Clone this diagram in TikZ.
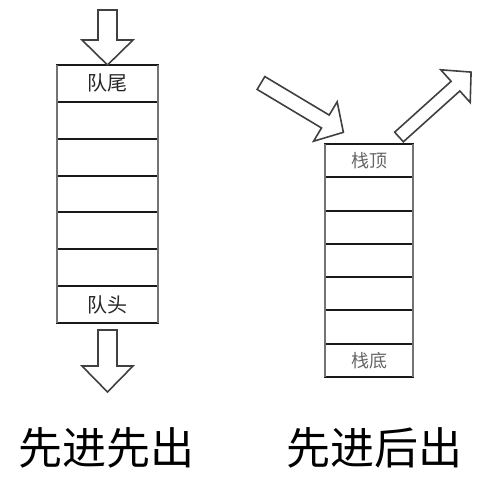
\documentclass[tikz,border=0pt]{standalone}
\usepackage{fontspec}
\newfontfamily\cjk{Noto Sans CJK SC}
\tikzset{
  qrow/.style={draw=black!90, line width=2pt, minimum width=101pt, minimum height=36.857pt, inner sep=0pt, outer sep=0pt},
  srow/.style={draw=black!90, line width=2pt, minimum width=88pt, minimum height=33.286pt, inner sep=0pt, outer sep=0pt},
  side/.style={draw=black!55, line width=2.2pt},
  arrowline/.style={draw=black!75, line width=1.6pt, line join=miter, fill=white},
  qlbl/.style={font=\cjk\fontsize{20}{20}\selectfont, text=black!85, inner sep=0pt},
  slbl/.style={font=\cjk\fontsize{18}{18}\selectfont, text=black!60, inner sep=0pt},
  biglbl/.style={font=\cjk\fontsize{44}{44}\selectfont, text=black, inner sep=0pt},
  pics/harrow/.style n args={4}{code={
    \draw[arrowline] (0,-#2) -- ({#1-#4},-#2) -- ({#1-#4},-#3) -- (#1,0) -- ({#1-#4},#3) -- ({#1-#4},#2) -- (0,#2) -- cycle;
  }}
}
\begin{document}
\begin{tikzpicture}[x=1pt,y=1pt]
\useasboundingbox (0,0) rectangle (490,-484);
% queue
\foreach \i in {1,...,7}
  \node[qrow] (q\i) at (107.5,{-65-36.857*(\i-0.5)}) {};
\draw[side] (q1.north west) -- (q7.south west);
\draw[side] (q1.north east) -- (q7.south east);
\node[qlbl] (qtail) at (q1) {队尾};
\node[qlbl] (qhead) at (q7) {队头};
% stack
\foreach \i in {1,...,7}
  \node[srow] (s\i) at (369,{-144-33.286*(\i-0.5)}) {};
\draw[side] (s1.north west) -- (s7.south west);
\draw[side] (s1.north east) -- (s7.south east);
\node[slbl] (stop) at (s1) {栈顶};
\node[slbl] (sbot) at (s7) {栈底};
% arrows
\pic[rotate=-90] (qin) at (107.5,-10) {harrow={55}{9.5}{25.5}{25}};
\pic[rotate=-90] (qout) at (107.5,-330) {harrow={62}{9.5}{25.5}{26}};
\pic[rotate=-30.9] (sin) at (261,-83) {harrow={96}{7.5}{23}{21}};
\pic[rotate=42] (sout) at (399,-137) {harrow={97}{6.5}{22}{21}};
% captions
\node[biglbl] (fifo) at (106,-448) {先进先出};
\node[biglbl] (lifo) at (374,-448) {先进后出};
\end{tikzpicture}
\end{document}
